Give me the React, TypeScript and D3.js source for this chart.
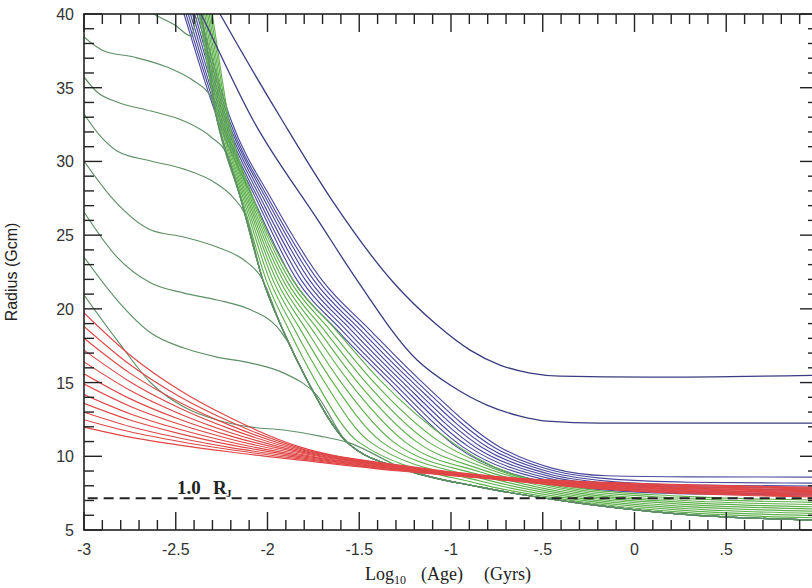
import React from 'react';
import * as d3 from 'd3';

const W = 812, H = 588;
const X0 = 84, X1 = 818, Y0 = 14, Y1 = 530;

const xDomain = [-3, 1];
const yDomain = [5, 40];
const xMajorTicks = [-3, -2.5, -2, -1.5, -1, -0.5, 0, 0.5, 1];
const xTickLabels = ['-3', '-2.5', '-2', '-1.5', '-1', '-.5', '0', '.5'];
const yMajorTicks = [5, 10, 15, 20, 25, 30, 35, 40];
const jupiterRadius = 7.15;

// red tracks: shared ages, one radius row per track
const redX = [-3, -2.75, -2.48, -2.2, -1.82, -1.28, -0.73, -0.19, 1.0];
const redY = [
  [19.72, 16.87, 14.49, 12.59, 10.62, 9.40, 8.60, 8.25, 7.91],
  [18.81, 16.22, 14.05, 12.32, 10.54, 9.36, 8.58, 8.21, 7.85],
  [18.01, 15.64, 13.67, 12.08, 10.46, 9.33, 8.56, 8.16, 7.79],
  [17.20, 15.06, 13.28, 11.84, 10.38, 9.29, 8.55, 8.12, 7.72],
  [16.40, 14.48, 12.89, 11.60, 10.30, 9.25, 8.53, 8.08, 7.66],
  [15.60, 13.91, 12.51, 11.37, 10.22, 9.22, 8.51, 8.04, 7.60],
  [14.90, 13.40, 12.17, 11.16, 10.14, 9.18, 8.49, 7.99, 7.54],
  [14.19, 12.89, 11.83, 10.95, 10.06, 9.15, 8.47, 7.95, 7.48],
  [13.59, 12.46, 11.54, 10.77, 9.98, 9.11, 8.45, 7.91, 7.42],
  [12.99, 12.02, 11.24, 10.59, 9.90, 9.07, 8.44, 7.87, 7.35],
  [12.48, 11.66, 11.00, 10.44, 9.82, 9.04, 8.42, 7.82, 7.29],
  [11.98, 11.30, 10.76, 10.29, 9.74, 9.00, 8.40, 7.78, 7.23],
];

const blueTracks = [
  [[-2.575, 45], [-2.455, 40], [-2.270, 32.81], [-2.074, 27.38], [-1.861, 21.95], [-1.621, 18.56], [-1.354, 15.17], [-0.967, 10.62], [-0.45, 8.15], [-0.15, 7.7], [0.3, 7.45], [1.0, 7.37]],
  [[-2.564, 45], [-2.444, 40], [-2.259, 32.81], [-2.059, 27.38], [-1.839, 21.95], [-1.596, 18.56], [-1.328, 15.17], [-0.934, 10.62], [-0.45, 8.3], [-0.15, 7.8], [0.3, 7.52], [1.0, 7.44]],
  [[-2.552, 45], [-2.432, 40], [-2.250, 32.81], [-2.046, 27.38], [-1.816, 21.95], [-1.570, 18.56], [-1.301, 15.17], [-0.900, 10.62], [-0.45, 8.45], [-0.15, 7.92], [0.3, 7.64], [1.0, 7.57]],
  [[-2.540, 45], [-2.420, 40], [-2.239, 32.81], [-2.032, 27.38], [-1.793, 21.95], [-1.544, 18.56], [-1.275, 15.17], [-0.867, 10.62], [-0.45, 8.6], [-0.15, 8.05], [0.3, 7.78], [1.0, 7.71]],
  [[-2.528, 45], [-2.408, 40], [-2.229, 32.81], [-2.017, 27.38], [-1.771, 21.95], [-1.518, 18.56], [-1.249, 15.17], [-0.833, 10.62], [-0.45, 8.75], [-0.15, 8.18], [0.3, 7.91], [1.0, 7.84]],
  [[-2.517, 45], [-2.397, 40], [-2.219, 32.81], [-2.003, 27.38], [-1.748, 21.95], [-1.493, 18.56], [-1.222, 15.17], [-0.800, 10.62], [-0.45, 8.9], [-0.15, 8.32], [0.3, 8.05], [1.0, 7.98]],
  [[-2.505, 45], [-2.385, 40], [-2.209, 32.81], [-1.990, 27.38], [-1.725, 21.95], [-1.467, 18.56], [-1.196, 15.17], [-0.766, 10.62], [-0.45, 9.05], [-0.15, 8.48], [0.3, 8.24], [1.0, 8.18]],
  [[-2.493, 45], [-2.373, 40], [-2.199, 32.81], [-1.975, 27.38], [-1.703, 21.95], [-1.441, 18.56], [-1.169, 15.17], [-0.733, 10.62], [-0.45, 9.2], [-0.15, 8.68], [0.3, 8.6], [1.0, 8.59]],
];

const wideBlueTracks = [
  [[-2.56, 45], [-2.362, 40], [-2.079, 32.81], [-1.725, 26.02], [-1.512, 21.95], [-1.185, 16.53], [-1.005, 14.83], [-0.804, 13.47], [-0.624, 12.73], [-0.477, 12.39], [-0.188, 12.25], [1.0, 12.25]],
  [[-2.48, 45], [-2.259, 40], [-1.921, 32.81], [-1.649, 27.38], [-1.316, 21.82], [-1.076, 18.90], [-0.896, 17.20], [-0.733, 16.19], [-0.569, 15.64], [-0.406, 15.44], [0.085, 15.37], [1.0, 15.5]],
];

const greenTracks = [
  [[-2.443, 45], [-2.373, 40], [-2.275, 32.81], [-2.144, 27.38], [-2.025, 21.95], [-1.916, 18.56], [-1.785, 15.17], [-1.567, 10.96], [-1.24, 9.06], [-0.84, 7.91], [-0.3, 6.82], [0.25, 6.08], [1.0, 5.67]],
  [[-2.436, 45], [-2.366, 40], [-2.268, 32.81], [-2.137, 27.38], [-2.007, 21.95], [-1.883, 18.56], [-1.741, 15.17], [-1.503, 10.96], [-0.84, 8.11], [-0.3, 6.93], [0.25, 6.21], [1.0, 5.82]],
  [[-2.428, 45], [-2.358, 40], [-2.260, 32.81], [-2.129, 27.38], [-1.988, 21.95], [-1.851, 18.56], [-1.696, 15.17], [-1.440, 10.96], [-0.84, 8.32], [-0.3, 7.04], [0.25, 6.35], [1.0, 5.97]],
  [[-2.420, 45], [-2.350, 40], [-2.253, 32.81], [-2.121, 27.38], [-1.970, 21.95], [-1.819, 18.56], [-1.652, 15.17], [-1.376, 10.96], [-0.84, 8.52], [-0.3, 7.16], [0.25, 6.48], [1.0, 6.12]],
  [[-2.412, 45], [-2.342, 40], [-2.246, 32.81], [-2.113, 27.38], [-1.952, 21.95], [-1.787, 18.56], [-1.608, 15.17], [-1.312, 10.96], [-0.84, 8.72], [-0.3, 7.27], [0.25, 6.62], [1.0, 6.27]],
  [[-2.404, 45], [-2.334, 40], [-2.239, 32.81], [-2.105, 27.38], [-1.934, 21.95], [-1.755, 18.56], [-1.563, 15.17], [-1.249, 10.96], [-0.84, 8.93], [-0.3, 7.38], [0.25, 6.76], [1.0, 6.42]],
  [[-2.396, 45], [-2.326, 40], [-2.232, 32.81], [-2.097, 27.38], [-1.916, 21.95], [-1.723, 18.56], [-1.519, 15.17], [-1.185, 10.96], [-0.84, 9.13], [-0.3, 7.50], [0.25, 6.89], [1.0, 6.57]],
  [[-2.388, 45], [-2.318, 40], [-2.225, 32.81], [-2.089, 27.38], [-1.898, 21.95], [-1.691, 18.56], [-1.475, 15.17], [-1.122, 10.96], [-0.84, 9.34], [-0.3, 7.61], [0.25, 7.02], [1.0, 6.72]],
  [[-2.380, 45], [-2.310, 40], [-2.217, 32.81], [-2.081, 27.38], [-1.879, 21.95], [-1.659, 18.56], [-1.431, 15.17], [-1.058, 10.96], [-0.84, 9.54], [-0.3, 7.72], [0.25, 7.16], [1.0, 6.87]],
  [[-2.372, 45], [-2.302, 40], [-2.210, 32.81], [-2.074, 27.38], [-1.861, 21.95], [-1.627, 18.56], [-1.387, 15.17], [-0.995, 10.96], [-0.84, 9.74], [-0.3, 7.84], [0.25, 7.30], [1.0, 7.03]],
];

// deuterium-plateau tracks (up to where they join the envelope track)
const plateauTracks = [
  [[-3, 42.5], [-2.85, 41.6], [-2.72, 40.9], [-2.619, 40.0], [-2.504, 39.25], [-2.417, 38.51]],
  [[-3, 38.44], [-2.891, 37.49], [-2.728, 37.08], [-2.548, 36.40], [-2.401, 35.45], [-2.308, 34.37]],
  [[-3, 35.73], [-2.929, 34.71], [-2.820, 34.03], [-2.635, 33.42], [-2.455, 32.74], [-2.308, 31.66], [-2.221, 30.50]],
  [[-3, 33.22], [-2.907, 31.66], [-2.820, 30.71], [-2.635, 30.03], [-2.455, 29.48], [-2.275, 28.47], [-2.19, 27.6], [-2.123, 26.43]],
  [[-3, 30.03], [-2.837, 27.38], [-2.635, 25.35], [-2.455, 24.87], [-2.275, 24.19], [-2.128, 23.31], [-2.035, 22.16]],
  [[-3, 26.57], [-2.820, 23.51], [-2.635, 21.75], [-2.455, 21.07], [-2.275, 20.60], [-2.090, 19.92], [-1.948, 18.77], [-1.895, 17.88]],
  [[-3, 23.51], [-2.820, 20.60], [-2.635, 18.36], [-2.455, 17.34], [-2.275, 16.73], [-2.090, 16.32], [-1.910, 15.64], [-1.732, 14.15]],
  [[-3, 20.94], [-2.820, 17.88], [-2.635, 14.97], [-2.455, 13.34], [-2.275, 12.46], [-2.090, 11.98], [-1.910, 11.78], [-1.714, 11.37]],
];

const COLORS = {
  blue: '#4b4b9e',
  wideBlue: '#3b3b82',
  green: '#5fb04c',
  plateau: '#5f8f68',
  red: '#e04646',
  axis: '#222',
};

export default function App() {
  const x = d3.scaleLinear().domain(xDomain).range([X0, X1]);
  const y = d3.scaleLinear().domain(yDomain).range([Y1, Y0]);
  const line = d3
    .line<number[]>()
    .x((d) => x(d[0]))
    .y((d) => y(d[1]))
    .curve(d3.curveMonotoneX);

  const envelope = greenTracks[0];
  const plateauFull = plateauTracks.map((p) => {
    const last = p[p.length - 1][0];
    return p.concat(envelope.filter((e) => e[0] > last + 0.03));
  });
  const redTracks = redY.map((row) => row.map((v, i) => [redX[i], v]));

  const xMinor = d3.range(-3, 1.0001, 0.1).filter((v) => Math.abs(v * 2 - Math.round(v * 2)) > 0.01);
  const yMinor = d3.range(5, 40.001, 1).filter((v) => v % 5 !== 0);

  const tickStroke = { stroke: COLORS.axis, strokeWidth: 1.4 };

  return (
    <svg width={W} height={H} style={{ position: 'absolute', left: 0, top: 0, background: '#fff' }}>
      <defs>
        <clipPath id="plotclip">
          <rect x={X0} y={Y0} width={X1 - X0} height={Y1 - Y0} />
        </clipPath>
      </defs>
      <rect x={0} y={0} width={W} height={H} fill="#fff" />
      <g clipPath="url(#plotclip)" fill="none" strokeWidth={1.15}>
        {blueTracks.map((t, i) => (
          <path key={'b' + i} d={line(t) || ''} stroke={COLORS.blue} />
        ))}
        {greenTracks.map((t, i) => (
          <path key={'g' + i} d={line(t) || ''} stroke={COLORS.green} />
        ))}
        {plateauFull.map((t, i) => (
          <path key={'p' + i} d={line(t) || ''} stroke={COLORS.plateau} />
        ))}
        {redTracks.map((t, i) => (
          <path key={'r' + i} d={line(t) || ''} stroke={COLORS.red} />
        ))}
        {wideBlueTracks.map((t, i) => (
          <path key={'w' + i} d={line(t) || ''} stroke={COLORS.wideBlue} strokeWidth={1.3} />
        ))}
        <line
          x1={x(-2.98)}
          x2={X1}
          y1={y(jupiterRadius)}
          y2={y(jupiterRadius)}
          stroke="#222"
          strokeWidth={2}
          strokeDasharray="10 6"
        />
      </g>

      {/* frame */}
      <rect x={X0} y={Y0} width={X1 - X0} height={Y1 - Y0} fill="none" stroke={COLORS.axis} strokeWidth={1.6} />

      {/* x ticks bottom & top */}
      {xMajorTicks.map((t) => (
        <g key={'xm' + t}>
          <line x1={x(t)} x2={x(t)} y1={Y1} y2={Y1 - 18} {...tickStroke} />
          <line x1={x(t)} x2={x(t)} y1={Y0} y2={Y0 + 18} {...tickStroke} />
        </g>
      ))}
      {xMinor.map((t) => (
        <g key={'xn' + t}>
          <line x1={x(t)} x2={x(t)} y1={Y1} y2={Y1 - 10} {...tickStroke} />
          <line x1={x(t)} x2={x(t)} y1={Y0} y2={Y0 + 10} {...tickStroke} />
        </g>
      ))}
      {/* y ticks left & right */}
      {yMajorTicks.map((t) => (
        <g key={'ym' + t}>
          <line x1={X0} x2={X0 + 18} y1={y(t)} y2={y(t)} {...tickStroke} />
          <line x1={X1} x2={X1 - 18} y1={y(t)} y2={y(t)} {...tickStroke} />
        </g>
      ))}
      {yMinor.map((t) => (
        <g key={'yn' + t}>
          <line x1={X0} x2={X0 + 10} y1={y(t)} y2={y(t)} {...tickStroke} />
          <line x1={X1} x2={X1 - 10} y1={y(t)} y2={y(t)} {...tickStroke} />
        </g>
      ))}

      {/* tick labels */}
      <g fontFamily="'Liberation Sans', Arial, sans-serif" fontSize={16} fill="#333">
        {xTickLabels.map((lab, i) => (
          <text key={'xl' + i} x={x(xMajorTicks[i])} y={555} textAnchor="middle">
            {lab}
          </text>
        ))}
        {yMajorTicks.map((t) => (
          <text key={'yl' + t} x={74} y={y(t) + 6} textAnchor="end">
            {t}
          </text>
        ))}
      </g>

      {/* axis titles */}
      <text
        transform={`translate(17, ${(Y0 + Y1) / 2}) rotate(-90)`}
        textAnchor="middle"
        fontFamily="'Liberation Sans', Arial, sans-serif"
        fontSize={16}
        fill="#222"
      >
        Radius (Gcm)
      </text>
      <g fontFamily="'Liberation Serif', 'Times New Roman', serif" fill="#222">
        <text x={365} y={580} fontSize={18}>Log</text>
        <text x={394} y={584} fontSize={12}>10</text>
        <text x={421} y={580} fontSize={18}>(Age)</text>
        <text x={484} y={580} fontSize={18}>(Gyrs)</text>
      </g>

      {/* 1.0 R_J label */}
      <g fontFamily="'Liberation Serif', 'Times New Roman', serif" fontWeight="bold" fill="#222">
        <text x={177} y={494} fontSize={19}>1.0</text>
        <text x={213} y={494} fontSize={19}>R</text>
        <text x={226} y={497} fontSize={11}>J</text>
      </g>
    </svg>
  );
}
